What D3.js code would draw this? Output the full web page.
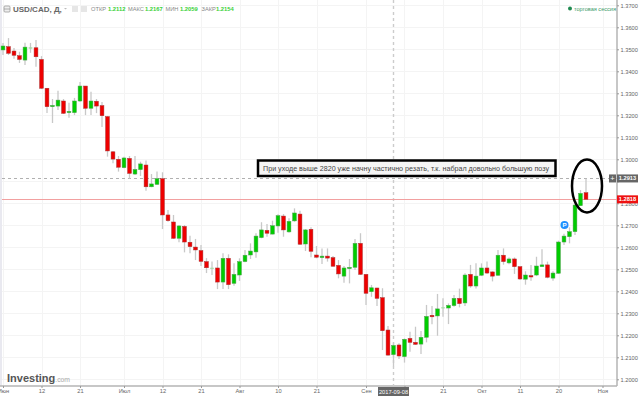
<!DOCTYPE html>
<html>
<head>
<meta charset="utf-8">
<script src="https://cdn.jsdelivr.net/npm/d3@7"></script>
<style>
  html, body {margin: 0; padding: 0; background: #fff; overflow: hidden;}
  svg {display: block; font-family: "Liberation Sans", Arial, sans-serif;}
  .axis text {fill: #666; font-size: 5.7px; font-family: "Liberation Sans", Arial, sans-serif;}
  .axis .domain {stroke: #b5b5b5; stroke-width: 1.5;}
  .axis .tick line {stroke: #999;}
</style>
</head>
<body>
<script>
//////////////// Datas ////////////////////
// daily candles, first one is 2017-06-01, weekdays only
var opens = [1.3497,1.3512,1.3492,1.3471,1.3451,1.3503,1.3507,1.3454,1.3323,1.3239,1.3242,1.3265,1.3212,1.3212,1.3265,1.3333,1.3232,1.3264,1.3244,1.3194,
  1.3034,1.3000,1.2962,1.3004,1.2933,1.2953,1.2974,1.2875,1.2886,1.2912,1.2747,1.2715,1.2641,1.2695,1.2623,1.2601,1.2585,1.2535,1.2505,1.2506,
  1.2442,1.2550,1.2436,1.2474,1.2535,1.2565,1.2579,1.2644,1.2677,1.2660,1.2697,1.2742,1.2670,1.2720,1.2751,1.2615,1.2682,1.2565,1.2553,1.2560,
  1.2553,1.2518,1.2469,1.2503,1.2509,1.2618,1.2477,1.2398,1.2415,1.2371,1.2224,1.2112,1.2156,1.2103,1.2186,1.2168,1.2160,1.2191,1.2291,1.2288,
  1.2324,1.2324,1.2335,1.2368,1.2347,1.2477,1.2424,1.2473,1.2506,1.2488,1.2473,1.2564,1.2529,1.2547,1.2512,1.2455,1.2471,1.2474,1.2512,1.2520,
  1.2460,1.2482,1.2624,1.2648,1.2671,1.2789,1.2848];
var highs = [1.3529,1.3551,1.3506,1.3489,1.3530,1.3529,1.3542,1.3469,1.3324,1.3274,1.3312,1.3274,1.3257,1.3279,1.3351,1.3333,1.3307,1.3274,1.3260,1.3197,
  1.3038,1.3015,1.3012,1.3015,1.3015,1.2989,1.2994,1.2933,1.2944,1.2941,1.2770,1.2747,1.2701,1.2701,1.2653,1.2638,1.2610,1.2551,1.2535,1.2542,
  1.2573,1.2568,1.2527,1.2550,1.2588,1.2618,1.2664,1.2714,1.2706,1.2721,1.2750,1.2751,1.2732,1.2777,1.2766,1.2683,1.2691,1.2606,1.2595,1.2595,
  1.2560,1.2542,1.2515,1.2547,1.2638,1.2664,1.2477,1.2429,1.2416,1.2414,1.2242,1.2167,1.2164,1.2186,1.2216,1.2239,1.2220,1.2338,1.2333,1.2388,
  1.2368,1.2345,1.2383,1.2412,1.2482,1.2520,1.2527,1.2527,1.2536,1.2491,1.2588,1.2595,1.2554,1.2554,1.2512,1.2491,1.2520,1.2557,1.2591,1.2535,
  1.2491,1.2630,1.2662,1.2691,1.2800,1.2860,1.2913];
var lows = [1.3474,1.3474,1.3457,1.3438,1.3429,1.3484,1.3421,1.3319,1.3210,1.3165,1.3224,1.3206,1.3189,1.3201,1.3260,1.3201,1.3201,1.3210,1.3147,1.3012,
  1.2982,1.2944,1.2959,1.2912,1.2929,1.2924,1.2857,1.2873,1.2883,1.2683,1.2716,1.2638,1.2623,1.2577,1.2573,1.2542,1.2515,1.2483,1.2474,1.2410,
  1.2410,1.2410,1.2425,1.2447,1.2532,1.2547,1.2553,1.2641,1.2648,1.2659,1.2666,1.2648,1.2666,1.2716,1.2610,1.2583,1.2555,1.2550,1.2524,1.2535,
  1.2512,1.2459,1.2439,1.2436,1.2497,1.2474,1.2338,1.2375,1.2333,1.2133,1.2107,1.2059,1.2092,1.2076,1.2125,1.2156,1.2115,1.2168,1.2250,1.2198,
  1.2284,1.2251,1.2330,1.2327,1.2333,1.2416,1.2413,1.2469,1.2479,1.2445,1.2469,1.2521,1.2523,1.2479,1.2451,1.2430,1.2448,1.2469,1.2512,1.2459,
  1.2448,1.2479,1.2610,1.2618,1.2656,1.2788,1.2815];
var closes = [1.3515,1.3482,1.3473,1.3454,1.3510,1.3509,1.3466,1.3323,1.3239,1.3245,1.3269,1.3209,1.3218,1.3265,1.3333,1.3232,1.3265,1.3242,1.3198,1.3038,
  1.3001,1.2964,1.3006,1.2936,1.2954,1.2979,1.2875,1.2888,1.2912,1.2747,1.2721,1.2641,1.2697,1.2624,1.2603,1.2588,1.2536,1.2507,1.2507,1.2442,
  1.2550,1.2430,1.2477,1.2535,1.2564,1.2583,1.2651,1.2679,1.2664,1.2698,1.2744,1.2679,1.2718,1.2756,1.2614,1.2679,1.2582,1.2555,1.2560,1.2551,
  1.2514,1.2479,1.2506,1.2509,1.2618,1.2477,1.2391,1.2416,1.2368,1.2221,1.2110,1.2154,1.2106,1.2182,1.2168,1.2159,1.2191,1.2286,1.2284,1.2320,
  1.2327,1.2336,1.2368,1.2344,1.2474,1.2424,1.2469,1.2506,1.2483,1.2469,1.2564,1.2535,1.2547,1.2512,1.2456,1.2474,1.2465,1.2515,1.2520,1.2464,
  1.2483,1.2624,1.2651,1.2671,1.2792,1.2845,1.2818];
var colorOverride = {5: "#9fdc9f", 38: "#9fdc9f", 80: "#9fdc9f"}; // faint dojis

var priceTicks = [1.20,1.21,1.22,1.23,1.24,1.25,1.26,1.27,1.28,1.29,1.30,1.31,1.32,1.33,1.34,1.35,1.36,1.37];
var dateTickIdx = [0,7,14,22,29,36,43,50,57,66,73,80,87,94,101,109];
// the 12 of Sep and the 1.2900 sit under the crosshair labels, so they stay empty
var dateTickLabels = ["Июн","12","21","Июл","12","21","Авг","10","21","Сен","","21","Окт","11","20","Ноя"];
var hiddenPriceTicks = [1.29];

var headerValues = [["ОТКР","1.2112"],["МАКС","1.2167"],["МИН","1.2059"],["ЗАКР","1.2154"]];
var lastPrice = 1.2818, crossPrice = 1.2913, crossIdx = 71, crossDate = "2017-09-08";
var note = "При уходе выше 2820 уже начну частично резать, т.к. набрал довольно большую позу";

//////////////// SVG ////////////////////
var width = 640, height = 396, plotRight = 617, plotBottom = 386;
var svg = d3.select("body").append("svg")
  .attr("width", width)
  .attr("height", height);

///////////////////////// Scaling /////////////////////////
var xScale = d3.scaleLinear().domain([0, 106]).range([3, 586]);
var yScale = d3.scaleLinear().domain([1.20, 1.37]).range([379.3, 5.3]);

svg.append("rect").attr("x", 0).attr("y", 0).attr("width", 2).attr("height", plotBottom).attr("fill", "#e9e9f0");

//////////////// Grid ////////////////////
var grid = svg.append("g").attr("class", "grid");
grid.selectAll("line.h").data(priceTicks).enter().append("line")
  .attr("class", "h")
  .attr("x1", 2).attr("x2", plotRight)
  .attr("y1", function(d){return Math.round(yScale(d)) + 0.5;})
  .attr("y2", function(d){return Math.round(yScale(d)) + 0.5;})
  .attr("stroke", "#f4f4f4");
grid.selectAll("line.v").data(dateTickIdx).enter().append("line")
  .attr("class", "v")
  .attr("x1", function(d){return Math.round(xScale(d)) + 0.5;})
  .attr("x2", function(d){return Math.round(xScale(d)) + 0.5;})
  .attr("y1", 0).attr("y2", plotBottom)
  .attr("stroke", "#f4f4f4");

///////////////////////// Axen /////////////////////////
var yAxis = d3.axisRight(yScale).tickValues(priceTicks)
  .tickFormat(function(d){return hiddenPriceTicks.indexOf(d) >= 0 ? "" : d3.format(".4f")(d);})
  .tickSize(2).tickPadding(1.5);
svg.append("g").attr("class", "y axis")
  .attr("transform", "translate(" + plotRight + ",0)")
  .call(yAxis)
  .select(".domain").attr("d", "M0,0V" + plotBottom);

var xAxis = d3.axisBottom(xScale).tickValues(dateTickIdx)
  .tickFormat(function(d, i){return dateTickLabels[i];})
  .tickSize(2).tickPadding(1);
svg.append("g").attr("class", "x axis")
  .attr("transform", "translate(0," + plotBottom + ")")
  .call(xAxis)
  .select(".domain").attr("d", "M0,0H" + plotRight);

//////////////// Crosshair + last price ////////////////////
svg.append("line")
  .attr("x1", 2).attr("x2", plotRight)
  .attr("y1", Math.round(yScale(crossPrice)) + 0.5).attr("y2", Math.round(yScale(crossPrice)) + 0.5)
  .attr("stroke", "#b0b0b0").attr("stroke-dasharray", "3,3");
svg.append("line")
  .attr("x1", xScale(crossIdx)).attr("x2", xScale(crossIdx))
  .attr("y1", 0).attr("y2", plotBottom)
  .attr("stroke", "#ccc").attr("stroke-width", 1.4).attr("stroke-dasharray", "3,3");
svg.append("line")
  .attr("x1", 2).attr("x2", plotRight)
  .attr("y1", Math.round(yScale(lastPrice)) + 0.5).attr("y2", Math.round(yScale(lastPrice)) + 0.5)
  .attr("stroke", "#f2a0a0");

///////////////// Shapes /////////////////
var candles = svg.append("g").attr("class", "shapes").selectAll("g")
  .data(d3.range(opens.length))
  .enter().append("g");

candles.append("line")
  .attr("x1", function(i){return xScale(i);})
  .attr("x2", function(i){return xScale(i);})
  .attr("y1", function(i){return yScale(highs[i]);})
  .attr("y2", function(i){return yScale(lows[i]);})
  .attr("stroke", "#c8c8c8").attr("stroke-width", 1.3);

candles.append("rect")
  .attr("x", function(i){return xScale(i) - 1.9;})
  .attr("width", 3.8)
  .attr("y", function(i){return yScale(Math.max(opens[i], closes[i]));})
  .attr("height", function(i){return Math.max(1, Math.abs(yScale(opens[i]) - yScale(closes[i])));})
  .attr("fill", function(i){
    if (colorOverride[i]) return colorOverride[i];
    return closes[i] >= opens[i] ? "#00cc00" : "#ee0000";
  })
  .attr("stroke", function(i){
    if (colorOverride[i]) return "none";
    return closes[i] >= opens[i] ? "#4f9f4f" : "#a83030";
  })
  .attr("stroke-width", 0.5);

//////////////// Header ////////////////////
var head = svg.append("g").attr("class", "header");
head.append("rect").attr("x", 4).attr("y", 6).attr("width", 6).attr("height", 6).attr("rx", 1)
  .attr("fill", "#eee").attr("stroke", "#999").attr("stroke-width", 0.8);
head.append("line").attr("x1", 4).attr("x2", 10).attr("y1", 9).attr("y2", 9).attr("stroke", "#999").attr("stroke-width", 0.8);
head.append("text").attr("x", 13).attr("y", 12).attr("font-size", 8).attr("font-weight", "bold").attr("fill", "#666")
  .text("USD/CAD, Д,");
head.append("path").attr("d", "M64,8h3l-1.5,1.5z").attr("fill", "#bbb");
head.append("rect").attr("x", 72).attr("y", 6).attr("width", 6).attr("height", 6).attr("fill", "#e6e6e6");
head.append("rect").attr("x", 81).attr("y", 6).attr("width", 6).attr("height", 6).attr("fill", "#e6e6e6");

var headLabelX = [91, 128, 165.5, 201.5];
var headValueX = [108, 145, 180, 216];
headerValues.forEach(function(p, i){
  head.append("text").attr("x", headLabelX[i]).attr("y", 11).attr("font-size", 5.7).attr("fill", "#888").text(p[0]);
  head.append("text").attr("x", headValueX[i]).attr("y", 11).attr("font-size", 5.8).attr("font-weight", "bold").attr("fill", "#35d035").text(p[1]);
});

svg.append("circle").attr("cx", 570).attr("cy", 8.5).attr("r", 2).attr("fill", "#1f8a50");
svg.append("text").attr("x", 574).attr("y", 11).attr("font-size", 5.6).attr("fill", "#3c9a68").text("торговая сессия");

//////////////// Annotation ////////////////////
svg.append("rect")
  .attr("x", 258).attr("y", 160.5).attr("width", 297.5).attr("height", 15.5)
  .attr("fill", "#f5f5f5").attr("stroke", "#000").attr("stroke-width", 2.5);
svg.append("text").attr("x", 406).attr("y", 171).attr("text-anchor", "middle")
  .attr("font-size", 7.15).attr("fill", "#444").text(note);
svg.append("ellipse")
  .attr("cx", 587).attr("cy", 186).attr("rx", 15).attr("ry", 26.5)
  .attr("fill", "none").attr("stroke", "#000").attr("stroke-width", 2.5);

// P marker
svg.append("circle").attr("cx", 564.5).attr("cy", 225).attr("r", 4).attr("fill", "#1e90ff");
svg.append("text").attr("x", 564.5).attr("y", 227.3).attr("text-anchor", "middle").attr("font-size", 6.2)
  .attr("font-weight", "bold").attr("fill", "#fff").text("P");

//////////////// Price + date labels ////////////////////
var yCross = yScale(crossPrice), yLast = yScale(lastPrice);
svg.append("rect").attr("x", 609).attr("y", yCross - 4).attr("width", 7).attr("height", 8).attr("fill", "#666");
svg.append("text").attr("x", 612.5).attr("y", yCross + 2.5).attr("text-anchor", "middle").attr("font-size", 7.5).attr("fill", "#fff").text("+");
svg.append("rect").attr("x", 617).attr("y", yCross - 4).attr("width", 21).attr("height", 8).attr("fill", "#666");
svg.append("text").attr("x", 627.5).attr("y", yCross + 2).attr("text-anchor", "middle").attr("font-size", 5.7).attr("font-weight", "bold").attr("fill", "#fff").text(d3.format(".4f")(crossPrice));
svg.append("rect").attr("x", 617).attr("y", yLast - 4).attr("width", 21).attr("height", 8).attr("fill", "#ee1111");
svg.append("text").attr("x", 627.5).attr("y", yLast + 2).attr("text-anchor", "middle").attr("font-size", 5.7).attr("font-weight", "bold").attr("fill", "#fff").text(d3.format(".4f")(lastPrice));

var xCross = xScale(crossIdx);
svg.append("rect").attr("x", xCross - 15.5).attr("y", 387).attr("width", 31).attr("height", 9).attr("fill", "#666");
svg.append("text").attr("x", xCross).attr("y", 393.5).attr("text-anchor", "middle").attr("font-size", 5.7).attr("fill", "#fff").text(crossDate);

//////////////// Logo ////////////////////
var logo = svg.append("text").attr("x", 7).attr("y", 381.5);
logo.append("tspan").attr("font-size", 11).attr("font-weight", "bold").attr("fill", "#555").text("Investing");
logo.append("tspan").attr("font-size", 6.8).attr("fill", "#aaa").text(".com");
</script>
</body>
</html>
